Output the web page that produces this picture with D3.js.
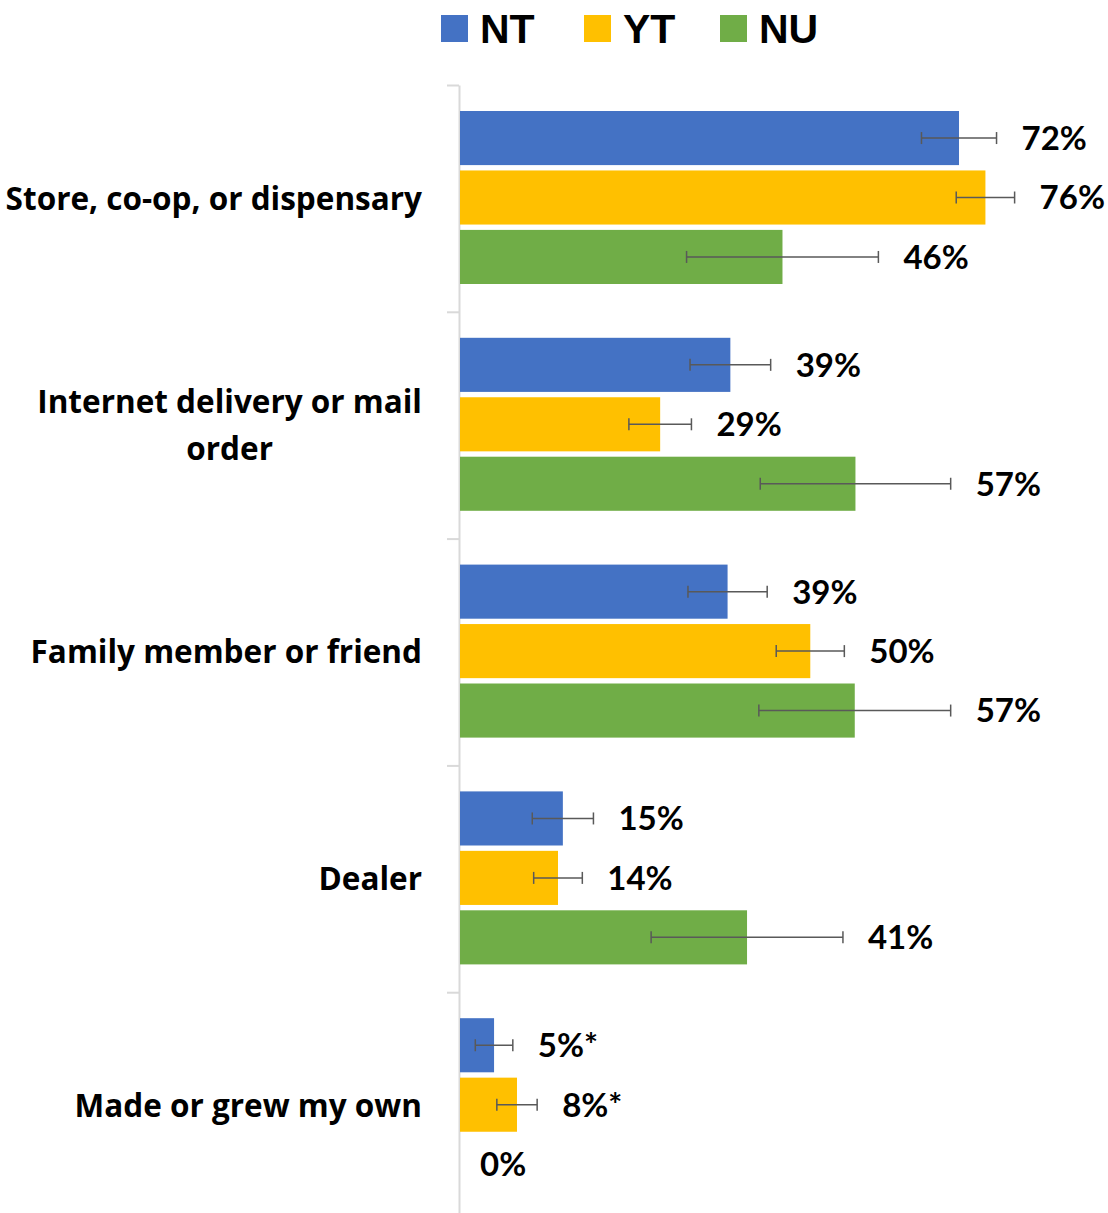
<!DOCTYPE html>
<html><head><meta charset="utf-8">
<script src="https://cdn.jsdelivr.net/npm/d3@7"></script>
<style>html,body{margin:0;padding:0;background:#fff;}svg{display:block;}</style>
</head><body>
<svg id="chart" width="1108" height="1213"></svg>
<script>
const categories = ["Store, co-op, or dispensary", "Internet delivery or mail order", "Family member or friend", "Dealer", "Made or grew my own"];
const seriesNames = ["NT", "YT", "NU"];
const seriesColors = ["#4472C4", "#FFC000", "#70AD47"];
const ntValues = [71.8, 38.9, 38.5, 14.8, 4.9];
const ytValues = [75.6, 28.8, 50.4, 14.1, 8.2];
const nuValues = [46.4, 56.9, 56.8, 41.3, 0];
const ntErrors = [5.4, 5.8, 5.7, 4.4, 2.7];
const ytErrors = [4.2, 4.5, 4.9, 3.5, 2.9];
const nuErrors = [13.8, 13.7, 13.8, 13.8, 0];
const ntLabels = ["72%", "39%", "39%", "15%", "5%*"];
const ytLabels = ["76%", "29%", "50%", "14%", "8%*"];
const nuLabels = ["46%", "57%", "57%", "41%", "0%"];

const values = [ntValues, ytValues, nuValues];
const errors = [ntErrors, ytErrors, nuErrors];
const labels = [ntLabels, ytLabels, nuLabels];

const svg = d3.select("#chart");
const catFont = "'Open Sans', Lato, sans-serif";
const valFont = "Lato, 'Open Sans', sans-serif";

const x = d3.scaleLinear().domain([0, 80]).range([460, 460 + 80 * 6.95]);
const y = d3.scaleBand().domain(categories).range([85, 1219]).padding(0);
const yInner = d3.scaleBand().domain(seriesNames).range([26, 199]).paddingInner(0.09).paddingOuter(0);

// axis (category boundaries)
const yb = d3.scaleLinear().domain([0, categories.length]).range([85, 1219]);
const axis = svg.append("g").attr("transform", "translate(459,0)")
  .call(d3.axisLeft(yb).tickValues(d3.range(0, categories.length + 1)).tickSize(12).tickSizeOuter(0).tickFormat(""));
axis.selectAll("path,line").attr("stroke", "#D9D9D9").attr("stroke-width", 2);

// bars
const data = [];
categories.forEach((c, ci) => seriesNames.forEach((s, si) => {
  data.push({c, s, si, v: values[si][ci], e: errors[si][ci], label: labels[si][ci]});
}));

const g = svg.append("g");
g.selectAll("rect.bar").data(data).join("rect")
  .attr("class", "bar")
  .attr("x", x(0))
  .attr("y", d => y(d.c) + yInner(d.s))
  .attr("width", d => x(d.v) - x(0))
  .attr("height", yInner.bandwidth())
  .attr("fill", d => seriesColors[d.si]);

// error bars
const eb = g.selectAll("g.err").data(data.filter(d => d.e > 0)).join("g").attr("class", "err")
  .attr("transform", d => `translate(0,${y(d.c) + yInner(d.s) + yInner.bandwidth() / 2})`);
eb.append("line").attr("x1", d => x(d.v - d.e)).attr("x2", d => x(d.v + d.e)).attr("y1", 0).attr("y2", 0);
eb.append("line").attr("x1", d => x(d.v - d.e)).attr("x2", d => x(d.v - d.e)).attr("y1", -6).attr("y2", 6);
eb.append("line").attr("x1", d => x(d.v + d.e)).attr("x2", d => x(d.v + d.e)).attr("y1", -6).attr("y2", 6);
eb.selectAll("line").attr("stroke", "#595959").attr("stroke-width", 1.5);

// value labels
g.selectAll("text.val").data(data).join("text")
  .attr("class", "val")
  .attr("x", d => x(d.v + d.e) + (d.v === 0 ? 20 : 25))
  .attr("y", d => y(d.c) + yInner(d.s) + yInner.bandwidth() / 2)
  .attr("dy", "0.36em")
  .attr("font-family", valFont)
  .attr("font-weight", 700)
  .attr("font-size", 33)
  .attr("fill", "#000")
  .text(d => d.label);

// category labels: wrap, block right aligned, lines centred in block
const catFs = 31.5, maxW = 430, lineH = 47, rightEdge = 422;
categories.forEach(c => {
  const t = svg.append("text").attr("font-family", catFont).attr("font-weight", 700)
    .attr("font-size", catFs).attr("fill", "#000");
  const words = c.split(" ");
  const lines = [];
  let cur = [];
  const probe = t.append("tspan");
  words.forEach(w => {
    const test = cur.concat([w]).join(" ");
    probe.text(test);
    if (probe.node().getComputedTextLength() > maxW && cur.length) {
      lines.push(cur.join(" "));
      cur = [w];
    } else cur.push(w);
  });
  lines.push(cur.join(" "));
  const widths = lines.map(l => { probe.text(l); return probe.node().getComputedTextLength(); });
  probe.remove();
  const bw = d3.max(widths);
  const cx = rightEdge - bw / 2;
  const cy = y(c) + y.bandwidth() / 2;
  lines.forEach((l, i) => {
    t.append("tspan").attr("x", cx).attr("text-anchor", "middle")
      .attr("y", cy + (i - (lines.length - 1) / 2) * lineH)
      .attr("dy", "0.36em").text(l);
  });
});

// legend
const legendX = [441, 584, 720];
const lg = svg.append("g");
seriesNames.forEach((s, i) => {
  lg.append("rect").attr("x", legendX[i]).attr("y", 15).attr("width", 27).attr("height", 27).attr("fill", seriesColors[i]);
  lg.append("text").attr("x", legendX[i] + 39).attr("y", 43)
    .attr("font-family", "'Liberation Sans', Arial, sans-serif").attr("font-weight", 700)
    .attr("font-size", 41).attr("fill", "#000").text(s);
});
</script>
</body></html>
